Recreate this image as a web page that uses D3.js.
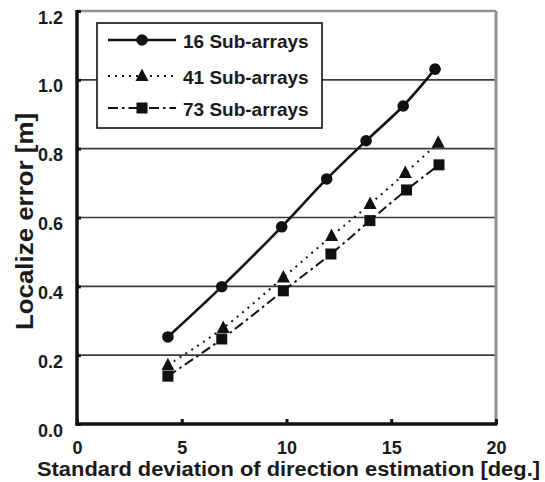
<!DOCTYPE html>
<html>
<head>
<meta charset="utf-8">
<script src="https://cdn.jsdelivr.net/npm/d3@7/dist/d3.min.js"></script>
<style>
  body { margin: 0; background: #fff; }
  text { font-family: "Liberation Sans", Arial, sans-serif; font-weight: bold; fill: #1a1a1a; }
</style>
</head>
<body>
<svg id="chart"></svg>
<script>
// data
var seriesNames = ['16 Sub-arrays', '41 Sub-arrays', '73 Sub-arrays'];
var x16 = [4.34, 6.91, 9.77, 11.92, 13.8, 15.57, 17.09];
var y16 = [0.253, 0.399, 0.573, 0.712, 0.823, 0.924, 1.031];
var x41 = [4.34, 6.98, 9.85, 12.15, 13.99, 15.67, 17.24];
var y41 = [0.171, 0.279, 0.426, 0.546, 0.639, 0.729, 0.817];
var x73 = [4.34, 6.91, 9.85, 12.12, 13.98, 15.73, 17.28];
var y73 = [0.139, 0.247, 0.387, 0.494, 0.591, 0.680, 0.753];
var xTicks = [0, 5, 10, 15, 20];
var yTicks = [0, 0.2, 0.4, 0.6, 0.8, 1.0, 1.2];

var width = 545;
var height = 482;
var LEFT = 77, RIGHT = 496, TOP = 11, BOTTOM = 424;

var svg = d3.select('#chart').attr('width', width).attr('height', height);

var x = d3.scaleLinear().domain([0, 20]).range([LEFT, RIGHT]);
var y = d3.scaleLinear().domain([0, 1.2]).range([BOTTOM, TOP]);

function zip(xs, ys){ return xs.map(function(v, i){ return [v, ys[i]]; }); }

var series = [
  { name: seriesNames[0], pts: zip(x16, y16), dash: null, marker: 'circle' },
  { name: seriesNames[1], pts: zip(x41, y41), dash: '2,5', marker: 'triangle' },
  { name: seriesNames[2], pts: zip(x73, y73), dash: '10,4,2.5,4', marker: 'square' }
];

// gridlines
svg.append('g').selectAll('line')
  .data(yTicks.filter(function(d){ return d > 0 && d < 1.2; }))
  .enter().append('line')
  .attr('x1', LEFT).attr('x2', RIGHT)
  .attr('y1', function(d){ return y(d); }).attr('y2', function(d){ return y(d); })
  .attr('stroke', '#3a3a3a').attr('stroke-width', 1.6);

// top and right border (gray)
svg.append('line').attr('x1', LEFT).attr('x2', RIGHT).attr('y1', y(1.2)).attr('y2', y(1.2))
  .attr('stroke', '#8c9196').attr('stroke-width', 2.5);
svg.append('line').attr('x1', RIGHT).attr('x2', RIGHT).attr('y1', y(1.2)).attr('y2', BOTTOM)
  .attr('stroke', '#8c9196').attr('stroke-width', 3);

// axes
var yAxis = d3.axisLeft(y).tickValues(yTicks).tickSize(-4).tickFormat(d3.format('.1f'));
var gy = svg.append('g').attr('transform', 'translate(' + LEFT + ',0)').call(yAxis);
gy.select('.domain').remove();
gy.selectAll('.tick line').attr('stroke', '#111').attr('stroke-width', 3);
gy.selectAll('.tick text')
  .attr('x', -14).attr('dy', null).attr('y', 12)
  .attr('font-size', 18).attr('font-family', null).attr('text-anchor', 'end');

var xAxis = d3.axisBottom(x).tickValues(xTicks).tickSize(-5).tickFormat(d3.format('d'));
var gx = svg.append('g').attr('transform', 'translate(0,' + BOTTOM + ')').call(xAxis);
gx.select('.domain').remove();
gx.selectAll('.tick line').attr('stroke', '#111').attr('stroke-width', 3);
gx.selectAll('.tick text')
  .attr('y', 30).attr('dy', null)
  .attr('font-size', 18).attr('font-family', null);

svg.append('line').attr('x1', LEFT).attr('x2', LEFT).attr('y1', TOP - 1).attr('y2', BOTTOM + 1.5)
  .attr('stroke', '#111').attr('stroke-width', 3.5);
svg.append('line').attr('x1', LEFT - 1.5).attr('x2', RIGHT + 1.5).attr('y1', BOTTOM).attr('y2', BOTTOM)
  .attr('stroke', '#111').attr('stroke-width', 3.5);

// titles
svg.append('text').attr('x', 37).attr('y', 476)
  .attr('font-size', 21).attr('textLength', 503).attr('lengthAdjust', 'spacingAndGlyphs')
  .text('Standard deviation of direction estimation [deg.]');
svg.append('text').attr('transform', 'translate(33,330) rotate(-90)')
  .attr('font-size', 23).attr('textLength', 217).attr('lengthAdjust', 'spacingAndGlyphs')
  .text('Localize error [m]');

// markers
function drawMarker(g, type, cx, cy){
  if (type === 'circle') {
    g.append('circle').attr('cx', cx).attr('cy', cy).attr('r', 5.8).attr('fill', '#111');
  } else if (type === 'triangle') {
    g.append('path').attr('d', 'M' + cx + ',' + (cy - 7.5) + 'L' + (cx + 6.5) + ',' + (cy + 5) + 'L' + (cx - 6.5) + ',' + (cy + 5) + 'Z')
      .attr('fill', '#111');
  } else {
    g.append('rect').attr('x', cx - 5.5).attr('y', cy - 5.5).attr('width', 11).attr('height', 11).attr('fill', '#111');
  }
}

var line = d3.line()
  .x(function(d){ return x(d[0]); })
  .y(function(d){ return y(d[1]); })
  .curve(d3.curveCatmullRom.alpha(0.5));

var plot = svg.append('g');
series.forEach(function(s){
  plot.append('path').attr('d', line(s.pts))
    .attr('fill', 'none').attr('stroke', '#111')
    .attr('stroke-width', s.dash ? 2 : 2.6)
    .attr('stroke-dasharray', s.dash);
  s.pts.forEach(function(p){ drawMarker(plot, s.marker, x(p[0]), y(p[1])); });
});

// legend
var legendRows = [40, 76, 108];
var legend = svg.append('g');
legend.append('rect').attr('x', 97).attr('y', 23).attr('width', 225).attr('height', 105)
  .attr('fill', '#fff').attr('stroke', '#111').attr('stroke-width', 1.6);
series.forEach(function(s, i){
  var ly = legendRows[i];
  legend.append('line').attr('x1', 108).attr('x2', 176).attr('y1', ly).attr('y2', ly)
    .attr('stroke', '#111').attr('stroke-width', s.dash ? 2 : 2.6)
    .attr('stroke-dasharray', s.dash);
  drawMarker(legend, s.marker, 142, ly);
  legend.append('text').attr('x', 183).attr('y', ly + 8).attr('font-size', 19).text(s.name);
});
</script>
</body>
</html>
